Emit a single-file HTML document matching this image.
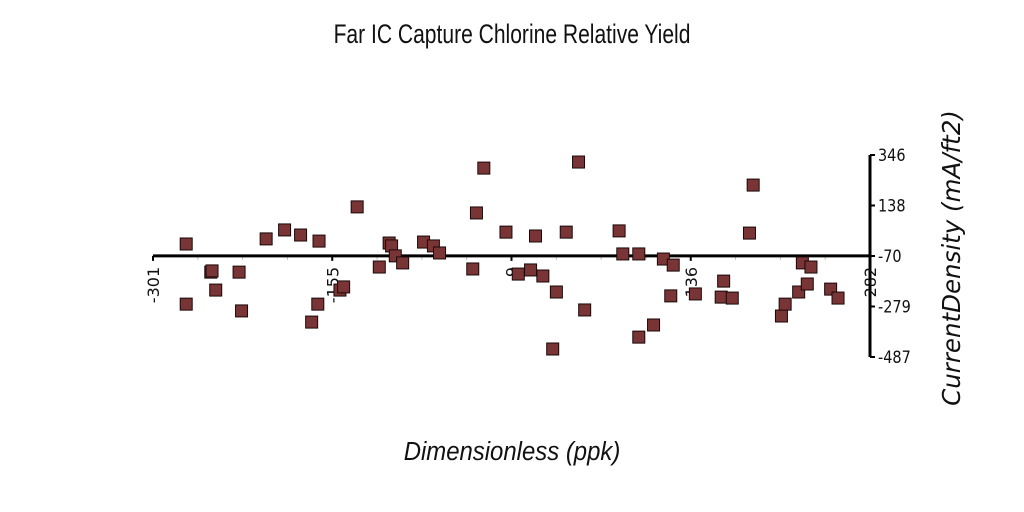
<!DOCTYPE html>
<html><head><meta charset="utf-8"><style>
html,body{margin:0;padding:0;background:#fff;}
svg{display:block;}
</style></head><body>
<svg id="chart" width="1024" height="512" viewBox="0 0 1024 512" xmlns="http://www.w3.org/2000/svg">
<text transform="translate(512,43) scale(0.78,1)" text-anchor="middle" font-family="'Liberation Sans',sans-serif" font-size="27" fill="#111">Far IC Capture Chlorine Relative Yield</text>
<text transform="translate(512,460) scale(0.92,1)" text-anchor="middle" font-family="'Liberation Sans',sans-serif" font-style="italic" font-size="26" fill="#111">Dimensionless (ppk)</text>
<text transform="translate(960,258) rotate(-90)" text-anchor="middle" font-family="'DejaVu Sans',sans-serif" font-style="italic" font-size="24.5" fill="#111">CurrentDensity (mA/ft2)</text>
<g id="axes"></g>
<g id="points"></g>
</svg>
<script>
const xVals=[-274,-274,-254,-253,-250,-231,-229,-209,-194,-181,-172,-167,-166,-149,-146,-135,-117,-109,-107,-104,-98,-81,-73,-68,-41,-38,-32,-14,-4,6,10,16,24,27,35,45,50,78,81,94,94,106,114,120,122,140,161,163,170,184,187,210,213,224,227,231,234,250,256];
const yVals=[-21,-269,-137,-132,-211,-137,-297,0,37,16,-343,-269,-9,-211,-198,132,-116,-17,-29,-70,-99,-13,-29,-58,-124,107,292,28,-145,-128,12,-153,-454,-219,28,317,-293,33,-62,-62,-405,-355,-83,-235,-108,-227,-240,-174,-244,24,222,-318,-269,-219,-99,-186,-116,-207,-244];
const xTickLabels=["-301","-155","9","136","282"];
const yTickLabels=["346","138","-70","-279","-487"];
const xMin=-301,xMax=282,yMin=-487,yMax=346;
const L=153,R=870,T=155,B=357;
const sx=v=>L+(v-xMin)/(xMax-xMin)*(R-L);
const sy=v=>B-(v-yMin)/(yMax-yMin)*(B-T);
const NS="http://www.w3.org/2000/svg";
const axes=document.getElementById('axes');
function mk(tag,attrs,parent){const e=document.createElementNS(NS,tag);for(const k in attrs)e.setAttribute(k,attrs[k]);parent.appendChild(e);return e;}
const axisY=sy(-70);
for(let i=0;i<4;i++){for(let j=1;j<4;j++){
 const px=L+(i+j/4)*(R-L)/4;
 const m=mk('line',{x1:px,x2:px,y1:axisY,y2:axisY+4,stroke:'#bbb','stroke-width':1},axes);
 
 
}}
const xa=mk('line',{x1:L,x2:R,y1:axisY,y2:axisY,stroke:'#000','stroke-width':3},axes);


const ya=mk('line',{x1:R,x2:R,y1:T,y2:B,stroke:'#000','stroke-width':3},axes);


xTickLabels.forEach((lab,i)=>{
 const px=L+i*(R-L)/(xTickLabels.length-1);
 const t=mk('line',{x1:px,x2:px,y1:axisY,y2:axisY+5,stroke:'#000','stroke-width':2},axes);
 
 
 const tx=mk('text',{transform:`translate(${px+6},${axisY+11}) rotate(-90)`,'text-anchor':'end','font-family':"'DejaVu Sans',sans-serif",'font-size':16,fill:'#111'},axes);
 tx.textContent=lab;
 
 
});
yTickLabels.forEach((lab,i)=>{
 const py=T+i*(B-T)/(yTickLabels.length-1);
 const t=mk('line',{x1:R,x2:R+5,y1:py,y2:py,stroke:'#000','stroke-width':2},axes);
 
 
 const tx=mk('text',{transform:`translate(${R+8},${py+6}) scale(0.85,1)`,'font-family':"'DejaVu Sans',sans-serif",'font-size':17,fill:'#111'},axes);
 tx.textContent=lab;
 
 
});
const pts=document.getElementById('points');
xVals.forEach((xv,i)=>{
 const r=mk('rect',{x:sx(xv)-6,y:sy(yVals[i])-6,width:12,height:12,fill:'#793535',stroke:'#1a0808','stroke-width':1},pts);
 
 
});
</script>
</body></html>
